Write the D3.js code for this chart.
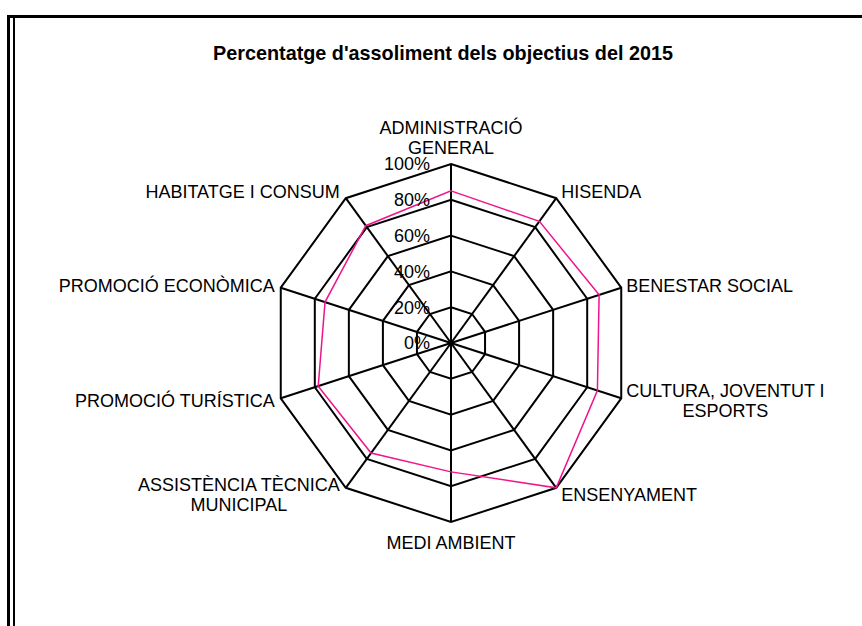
<!DOCTYPE html>
<html>
<head>
<meta charset="utf-8">
<script src="https://cdn.jsdelivr.net/npm/d3@7"></script>
<style>
  body { margin: 0; background: #fff; }
  text { font-family: "Liberation Sans", Arial, sans-serif; fill: #000; }
</style>
</head>
<body>
<div id="chart"></div>
<script>
// chart data
var categories = [
  ["ADMINISTRACIÓ", "GENERAL"],
  ["HISENDA"],
  ["BENESTAR SOCIAL"],
  ["CULTURA, JOVENTUT I", "ESPORTS"],
  ["ENSENYAMENT"],
  ["MEDI AMBIENT"],
  ["ASSISTÈNCIA TÈCNICA", "MUNICIPAL"],
  ["PROMOCIÓ TURÍSTICA"],
  ["PROMOCIÓ ECONÒMICA"],
  ["HABITATGE I CONSUM"]
];
var values2015 = [0.85, 0.84, 0.87, 0.86, 1.00, 0.72, 0.76, 0.78, 0.74, 0.81];
var tickValues = [0, 0.2, 0.4, 0.6, 0.8, 1.0];
var titleText = "Percentatge d'assoliment dels objectius del 2015";

var svgWidth = 862;
var svgHeight = 626;
var cx = 451, cy = 343;
var radius = 179;

var svg = d3.select("#chart")
  .append("svg")
  .attr("width", svgWidth)
  .attr("height", svgHeight);

// frame
svg.append("path")
  .attr("d", "M8.5,630 V16.5 H870")
  .attr("fill", "none")
  .attr("stroke", "#000")
  .attr("stroke-width", 3);
svg.append("line")
  .attr("x1", 14).attr("x2", 14)
  .attr("y1", 18).attr("y2", 630)
  .attr("stroke", "#000")
  .attr("stroke-width", 2);

svg.append("text")
  .attr("x", 443)
  .attr("y", 60)
  .attr("text-anchor", "middle")
  .style("font-size", "19.8px")
  .style("font-weight", "bold")
  .text(titleText);

var rScale = d3.scaleLinear().domain([0, 1]).range([0, radius]);
var angle = d3.scaleLinear().domain([0, categories.length]).range([0, 2 * Math.PI]);

var chartGroup = svg.append("g")
  .attr("transform", `translate(${cx}, ${cy})`);

// rings
var ring = d3.lineRadial()
  .angle((d, i) => angle(i))
  .radius(d => rScale(d))
  .curve(d3.curveLinearClosed);

chartGroup.selectAll(".ring")
  .data(tickValues.filter(t => t > 0))
  .enter()
  .append("path")
  .attr("class", "ring")
  .attr("d", t => ring(categories.map(() => t)))
  .attr("fill", "none")
  .attr("stroke", "#000")
  .attr("stroke-width", 2);

// spokes
chartGroup.selectAll(".spoke")
  .data(categories)
  .enter()
  .append("line")
  .attr("class", "spoke")
  .attr("x1", 0).attr("y1", 0)
  .attr("x2", (d, i) => rScale(1) * Math.sin(angle(i)))
  .attr("y2", (d, i) => -rScale(1) * Math.cos(angle(i)))
  .attr("stroke", "#000")
  .attr("stroke-width", 2);

// series
chartGroup.append("path")
  .attr("d", ring(values2015))
  .attr("fill", "none")
  .attr("stroke", "#f0148c")
  .attr("stroke-width", 1.5);

// tick labels
chartGroup.selectAll(".tick")
  .data(tickValues)
  .enter()
  .append("text")
  .attr("class", "tick")
  .attr("x", -21)
  .attr("y", t => -rScale(t))
  .attr("dy", "0.35em")
  .attr("text-anchor", "end")
  .style("font-size", "18px")
  .text(d3.format(".0%"));

// category labels
var lineH = 20;
chartGroup.selectAll(".cat")
  .data(categories)
  .enter()
  .append("text")
  .attr("class", "cat")
  .style("font-size", "18px")
  .each(function(lines, i) {
    var a = angle(i);
    var s = Math.sin(a), c = Math.cos(a);
    var vx = rScale(1) * s, vy = -rScale(1) * c;
    var anchor = "middle", x = vx, yc;
    var h = lines.length * lineH;
    if (Math.abs(s) < 0.1) {
      // top label sits closer than the bottom one
      yc = vy - c * (h / 2 + (c > 0 ? 6 : 11));
    } else {
      anchor = s > 0 ? "start" : "end";
      x = vx + (s > 0 ? 5 : -6);
      yc = vy - c * 8;
    }
    var t = d3.select(this).attr("text-anchor", anchor);
    var x0 = x;
    if (lines.length > 1 && anchor !== "middle") {
      // centre-aligned block, shift to block centre
      var w = 0;
      lines.forEach(function(l) {
        var tmp = chartGroup.append("text").style("font-size", "18px").text(l);
        w = Math.max(w, tmp.node().getComputedTextLength());
        tmp.remove();
      });
      x0 = anchor === "start" ? x + w / 2 : x - w / 2;
      t.attr("text-anchor", "middle");
    }
    lines.forEach(function(l, j) {
      t.append("tspan")
        .attr("x", x0)
        .attr("y", yc - h / 2 + lineH * j + lineH / 2)
        .attr("dy", "0.35em")
        .text(l);
    });
  });
</script>
</body>
</html>
